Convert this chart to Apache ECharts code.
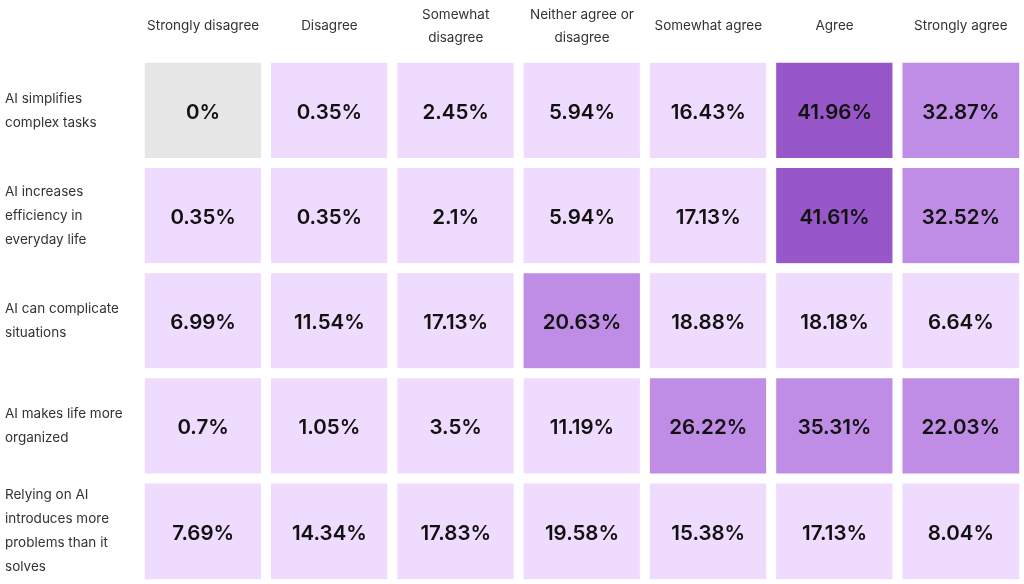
<!DOCTYPE html>
<html>
<head>
<meta charset="utf-8">
<script src="https://cdn.jsdelivr.net/npm/echarts@6/dist/echarts.min.js"></script>
<style>
html,body{margin:0;padding:0;background:#fff;}
#chart{width:1024px;height:584px;}
</style>
</head>
<body>
<div id="chart"></div>
<script>
const responses = ['Strongly disagree','Disagree','Somewhat\ndisagree','Neither agree or\ndisagree','Somewhat agree','Agree','Strongly agree'];
const statements = ['AI simplifies\ncomplex tasks','AI increases\nefficiency in\neveryday life','AI can complicate\nsituations','AI makes life more\norganized','Relying on AI\nintroduces more\nproblems than it\nsolves'];
const simplifies = [0, 0.35, 2.45, 5.94, 16.43, 41.96, 32.87];
const efficiency = [0.35, 0.35, 2.1, 5.94, 17.13, 41.61, 32.52];
const complicate = [6.99, 11.54, 17.13, 20.63, 18.88, 18.18, 6.64];
const organized = [0.7, 1.05, 3.5, 11.19, 26.22, 35.31, 22.03];
const problems = [7.69, 14.34, 17.83, 19.58, 15.38, 17.13, 8.04];
const rows = [simplifies, efficiency, complicate, organized, problems];

const data = [];
rows.forEach((r, yi) => r.forEach((v, xi) => data.push([xi, yi, v])));

const chart = echarts.init(document.getElementById('chart'));
chart.setOption({
  animation: false,
  grid: {left: 140, right: 0, top: 58, bottom: 0},
  xAxis: {
    type: 'category', data: responses, position: 'top',
    axisLine: {show: false}, axisTick: {show: false}, splitLine: {show: false},
    axisLabel: {interval: 0, margin: 32, verticalAlign: 'middle', align: 'center',
      fontFamily: 'Inter', fontSize: 13.5, color: '#333', lineHeight: 23}
  },
  yAxis: {
    type: 'category', data: statements, inverse: true,
    axisLine: {show: false}, axisTick: {show: false}, splitLine: {show: false},
    axisLabel: {interval: 0, margin: 135, align: 'left', verticalAlign: 'middle',
      fontFamily: 'Inter', fontSize: 13.5, color: '#333', lineHeight: 24}
  },
  visualMap: {
    show: false, type: 'piecewise', dimension: 2,
    pieces: [
      {value: 0, color: '#e6e6e6'},
      {gt: 0, lt: 20, color: '#efdbfd'},
      {gte: 20, lt: 40, color: '#bf8de6'},
      {gte: 40, color: '#9757c9'}
    ]
  },
  series: [{
    type: 'heatmap', data: data,
    itemStyle: {borderColor: '#ffffff', borderWidth: 10},
    label: {show: true, formatter: p => p.value[2] + '%', offset: [0, 2],
      fontFamily: 'Inter', fontSize: 20.5, fontWeight: 600, color: '#111'},
    emphasis: {disabled: true}
  }]
});
</script>
</body>
</html>
